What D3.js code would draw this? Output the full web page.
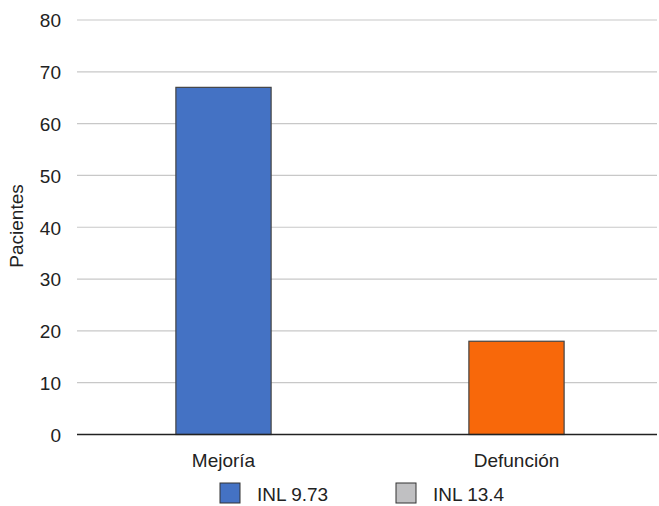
<!DOCTYPE html>
<html><head><meta charset="utf-8">
<script src="https://cdn.jsdelivr.net/npm/d3@7"></script>
<style>body{margin:0;background:#fff}svg{display:block}text{font-family:"Liberation Sans",Arial,Helvetica,sans-serif;fill:#222}</style>
</head><body>
<script>
const categories = ["Mejoría", "Defunción"];
const values = [67, 18];
const barColors = ["#4472C4", "#F8680A"];
const legendLabels = ["INL 9.73", "INL 13.4"];
const legendColors = ["#4472C4", "#C0C0C2"];
const yTicks = [0, 10, 20, 30, 40, 50, 60, 70, 80];

const W = 659, H = 506;
const svg = d3.select("body").append("svg").attr("width", W).attr("height", H);
const x = d3.scaleBand().domain(categories).range([77, 663]).paddingInner(0.675).paddingOuter(0.3375);
const y = d3.scaleLinear().domain([0, 80]).range([434.5, 20]);

// gridlines
svg.append("g").selectAll("line").data(yTicks.filter(d => d > 0)).join("line")
  .attr("x1", 77).attr("x2", 657)
  .attr("y1", d => y(d)).attr("y2", d => y(d))
  .attr("stroke", "#c8c8c8").attr("stroke-width", 1.2);

// y axis labels
const yAxis = d3.axisLeft(y).tickValues(yTicks).tickSize(0).tickPadding(0);
const ya = svg.append("g").attr("transform", "translate(61,0)").call(yAxis);
ya.select(".domain").remove();
ya.selectAll("text").style("font-size", "19px").style("font-family", "'Liberation Sans', Arial, sans-serif").attr("fill", "#222").attr("dy", "0.36em");

// bars
svg.append("g").selectAll("rect").data(values).join("rect")
  .attr("x", (d, i) => x(categories[i]))
  .attr("width", x.bandwidth())
  .attr("y", d => y(d))
  .attr("height", d => y(0) - y(d))
  .attr("fill", (d, i) => barColors[i])
  .attr("stroke", "#444").attr("stroke-width", 1.2);

// baseline
svg.append("line").attr("x1", 77).attr("x2", 657).attr("y1", y(0)).attr("y2", y(0))
  .attr("stroke", "#222").attr("stroke-width", 1.5);

// x axis labels
const xAxis = d3.axisBottom(x).tickSize(0).tickPadding(0);
const xa = svg.append("g").attr("transform", "translate(0,453)").call(xAxis);
xa.select(".domain").remove();
xa.selectAll("text").style("font-size", "19px").style("font-family", "'Liberation Sans', Arial, sans-serif").attr("fill", "#222").attr("dy", "0.72em");

// y title
svg.append("text").attr("transform", "translate(16,226) rotate(-90)")
  .attr("text-anchor", "middle").attr("dy", "0.36em").style("font-size", "19px").text("Pacientes");

// legend
const lx = [220, 396];
const lg = svg.append("g").selectAll("g").data(legendLabels).join("g")
  .attr("transform", (d, i) => `translate(${lx[i]},483)`);
lg.append("rect").attr("width", 20).attr("height", 20)
  .attr("fill", (d, i) => legendColors[i]).attr("stroke", "#333").attr("stroke-width", 1);
lg.append("text").attr("x", 37).attr("y", 17.5).style("font-size", "19px").text(d => d);
</script>
</body></html>
